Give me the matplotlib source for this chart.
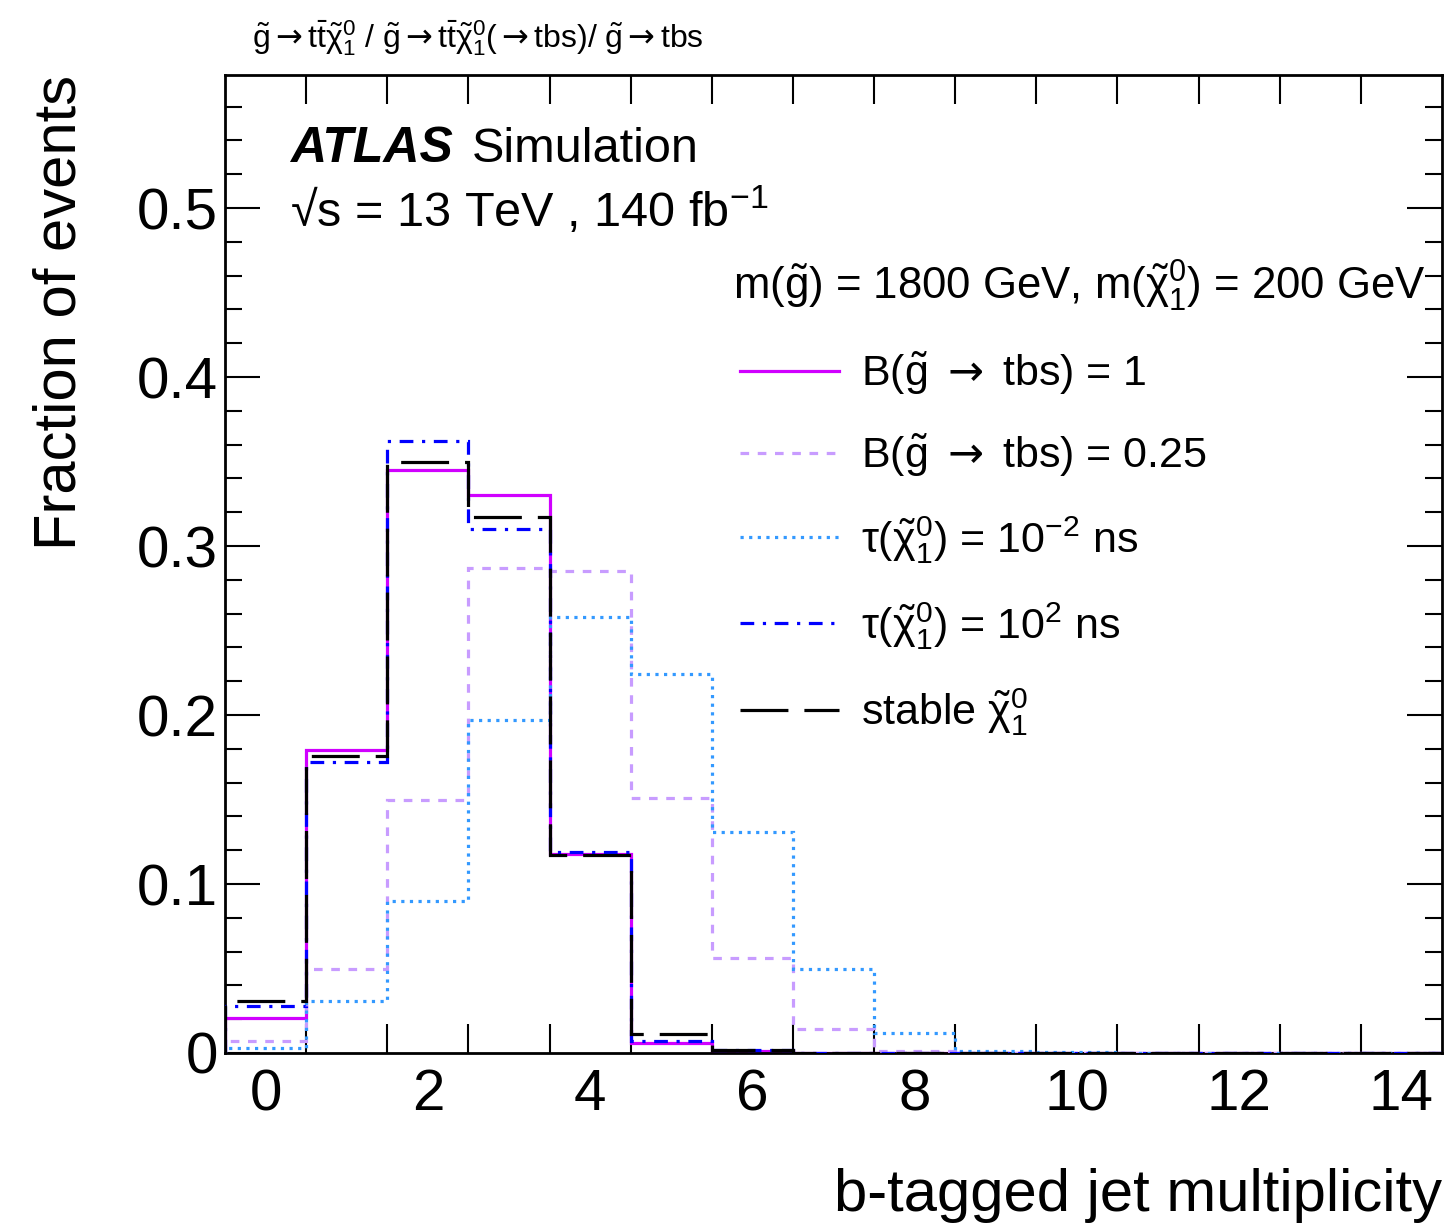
import numpy as np
import matplotlib
matplotlib.use('Agg')
import matplotlib.pyplot as plt
from matplotlib.lines import Line2D
from matplotlib.ticker import FixedLocator, MultipleLocator, FuncFormatter

plt.rcParams['font.family'] = ['Liberation Sans', 'DejaVu Sans']
plt.rcParams['mathtext.fontset'] = 'custom'
plt.rcParams['mathtext.rm'] = 'Liberation Sans'
plt.rcParams['mathtext.it'] = 'Liberation Sans:italic'
plt.rcParams['mathtext.bf'] = 'Liberation Sans:bold'
plt.rcParams['mathtext.sf'] = 'DejaVu Sans'
plt.rcParams['mathtext.default'] = 'regular'
plt.rcParams['mathtext.fallback'] = 'stix'

# bin edges: one bin per b-jet multiplicity 0..14
edges = np.arange(-0.5, 15.5, 1.0)

# fraction of events per bin
frac_bf1 = [0.021, 0.179, 0.345, 0.330, 0.118, 0.006, 0.001, 0, 0, 0, 0, 0, 0, 0, 0]
frac_bf025 = [0.007, 0.050, 0.150, 0.287, 0.285, 0.151, 0.056, 0.014, 0.001, 0, 0, 0, 0, 0, 0]
frac_tau1em2 = [0.003, 0.031, 0.090, 0.197, 0.258, 0.224, 0.131, 0.050, 0.012, 0.001, 0.0005, 0, 0, 0, 0]
frac_tau1e2 = [0.028, 0.172, 0.362, 0.310, 0.119, 0.007, 0.002, 0, 0, 0, 0, 0, 0, 0, 0]
frac_stable = [0.031, 0.176, 0.350, 0.317, 0.117, 0.011, 0.002, 0, 0, 0, 0, 0, 0, 0, 0]

arr = r'\mathsf{\rightarrow}'
labels = [r'B($\tilde{g}$ $' + arr + r'$ tbs) = 1',
          r'B($\tilde{g}$ $' + arr + r'$ tbs) = 0.25',
          r'$\tau(\tilde{\chi}^0_1)$ = 10$^{-2}$ ns',
          r'$\tau(\tilde{\chi}^0_1)$ = 10$^{2}$ ns',
          r'stable $\tilde{\chi}^0_1$']

lw = 2.3
styles = [
    dict(color='#d000ff', linestyle='-'),
    dict(color='#c89cff', linestyle=(0, (2.7, 2.7))),
    dict(color='#3399ff', linestyle=(0, (1.0, 1.7))),
    dict(color='#0000ff', linestyle=(0, (4.3, 2.7, 1.0, 2.7))),
    dict(color='black', linestyle=(0, (15, 5))),
]
series = [frac_bf1, frac_bf025, frac_tau1em2, frac_tau1e2, frac_stable]

fig = plt.figure(figsize=(14.5, 12.27), dpi=100)
ax = fig.add_axes([225 / 1450, 1 - 1053 / 1227, 1217 / 1450, 978 / 1227])

for i, (vals, st) in enumerate(zip(series, styles)):
    ax.stairs(vals, edges, baseline=0, fill=False, linewidth=lw,
              color=st['color'], linestyle=st['linestyle'], zorder=2 + i)

ax.set_xlim(-0.5, 14.5)
ax.set_ylim(0, 0.5787)

# x: labels on even numbers, ticks on bin edges
ax.xaxis.set_major_locator(FixedLocator(np.arange(0, 15, 2)))
ax.xaxis.set_minor_locator(FixedLocator(np.arange(0.5, 14.5, 1.0)))
ax.tick_params(axis='x', which='major', length=0, pad=11, labelsize=42)
ax.tick_params(axis='x', which='minor', length=21, width=1.5, direction='in', top=True, bottom=True)

ax.yaxis.set_major_locator(MultipleLocator(0.1))
ax.yaxis.set_minor_locator(MultipleLocator(0.02))
ax.yaxis.set_major_formatter(FuncFormatter(lambda v, p: '0' if abs(v) < 1e-9 else '%g' % v))
ax.tick_params(axis='y', which='major', length=25, width=1.5, direction='in',
               left=True, right=True, pad=5, labelsize=42)
ax.tick_params(axis='y', which='minor', length=12.5, width=1.5, direction='in', left=True, right=True)

for s in ax.spines.values():
    s.set_linewidth(2)

ax.set_ylabel('Fraction of events', fontsize=43, loc='top')
ax.yaxis.set_label_coords(-0.113, 1.0)
ax.set_xlabel('b-tagged jet multiplicity', fontsize=43, loc='right')
ax.xaxis.set_label_coords(1.0, -0.118)

fig.text(290 / 1450, 1 - 162 / 1227, 'ATLAS', fontsize=36, fontweight='bold', fontstyle='italic')
fig.text(472 / 1450, 1 - 162 / 1227, 'Simulation', fontsize=35)
fig.text(290 / 1450, 1 - 227 / 1227, '√s = 13 TeV , 140 fb$^{-1}$', fontsize=35)

fig.text(252 / 1450, 1 - 48 / 1227,
         r'$\tilde{g}' + arr + r't\bar{t}\tilde{\chi}^0_1$ / '
         r'$\tilde{g}' + arr + r't\bar{t}\tilde{\chi}^0_1(' + arr + r'tbs)$/ '
         r'$\tilde{g}' + arr + r'tbs$', fontsize=23)

fig.text(733 / 1450, 1 - 300 / 1227,
         r'm($\tilde{g}$) = 1800 GeV, m($\tilde{\chi}^0_1$) = 200 GeV', fontsize=31.5)

handles = [Line2D([], [], linewidth=lw, **st) for st in styles]
ax.legend(handles, labels, loc='upper left', bbox_to_anchor=(740 / 1450, 1 - 350 / 1227),
          bbox_transform=fig.transFigure, frameon=False, fontsize=31,
          handlelength=2.3, handletextpad=0.5, labelspacing=0.8,
          borderpad=0, borderaxespad=0)

fig.savefig('out.png', dpi=100)
